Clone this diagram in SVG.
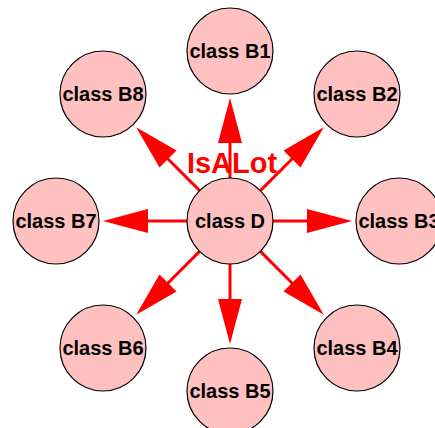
<svg xmlns="http://www.w3.org/2000/svg" width="435" height="428" viewBox="0 0 435 428">
<style>
.n{fill:#ffc0c0;stroke:#000;stroke-width:1.2}
.t{font-family:"Liberation Sans",Arial,sans-serif;font-weight:bold;font-size:20px;fill:#000;text-anchor:middle}
.e line{stroke:#ff0000;stroke-width:3}
.e polygon{fill:#ff0000;stroke:none}
.lbl{font-family:"Liberation Sans",Arial,sans-serif;font-weight:bold;font-size:29px;fill:#ff0000;text-anchor:middle}
</style>
<rect width="435" height="428" fill="#fff"/>
<g id="nodes">
<g id="B1"><circle class="n" cx="230" cy="51" r="43"/><text class="t" x="230" y="58">class B1</text></g>
<g id="B2"><circle class="n" cx="357" cy="94" r="43"/><text class="t" x="357" y="101">class B2</text></g>
<g id="B3"><circle class="n" cx="399" cy="221" r="43"/><text class="t" x="399" y="228">class B3</text></g>
<g id="B4"><circle class="n" cx="357" cy="348" r="43"/><text class="t" x="357" y="355">class B4</text></g>
<g id="B5"><circle class="n" cx="230" cy="391" r="43"/><text class="t" x="230" y="398">class B5</text></g>
<g id="B6"><circle class="n" cx="103" cy="348" r="43"/><text class="t" x="103" y="355">class B6</text></g>
<g id="B7"><circle class="n" cx="56" cy="221" r="43"/><text class="t" x="56" y="228">class B7</text></g>
<g id="B8"><circle class="n" cx="103" cy="94" r="43"/><text class="t" x="103" y="101">class B8</text></g>
</g>
<g id="edges" class="e">
<line x1="230" y1="178" x2="230" y2="140"/><polygon points="230,98 242,143 218,143"/>
<line x1="260.4" y1="190.6" x2="294" y2="157"/><polygon points="323.8,127.2 300.5,167.5 283.5,150.5"/>
<line x1="273" y1="221" x2="310" y2="221"/><polygon points="352,221 307,209 307,233"/>
<line x1="260.4" y1="251.4" x2="294" y2="285"/><polygon points="323.8,314.8 300.5,274.5 283.5,291.5"/>
<line x1="230" y1="264" x2="230" y2="302"/><polygon points="230,344 218,299 242,299"/>
<line x1="199.6" y1="251.4" x2="166" y2="285"/><polygon points="136.2,314.8 176.5,291.5 159.5,274.5"/>
<line x1="187" y1="221" x2="145" y2="221"/><polygon points="103,221 148,209 148,233"/>
<line x1="199.6" y1="190.6" x2="166" y2="157"/><polygon points="136.2,127.2 176.5,150.5 159.5,167.5"/>
<text class="lbl" x="232" y="173">IsALot</text>
</g>
<g id="D"><circle class="n" cx="230" cy="221" r="43"/><text class="t" x="230" y="228">class D</text></g>
</svg>
